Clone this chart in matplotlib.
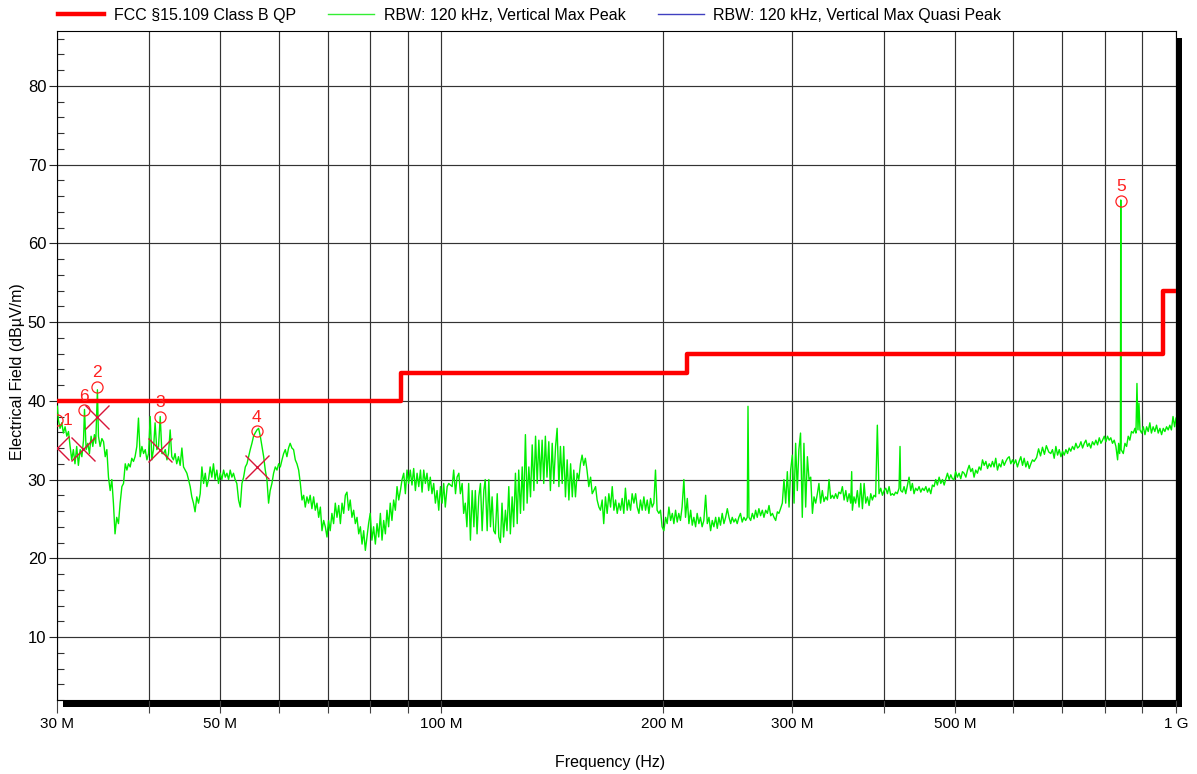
import matplotlib
matplotlib.use('Agg')
import matplotlib.pyplot as plt
from matplotlib.ticker import FixedLocator, FixedFormatter, NullFormatter, MultipleLocator
from matplotlib.lines import Line2D
from matplotlib.patches import Rectangle

plt.rcParams['font.family'] = ['Liberation Sans', 'DejaVu Sans']

# limit line: FCC 15.109 class B (3 m), step edges in MHz
limit_edges = [30, 88, 216, 960, 1000]
limit_levels = [40, 43.5, 46, 54, 54]

# max peak trace (MHz, dBuV/m)
band_30_56 = [
    (30.0, 39.3), (30.09, 37.6), (30.25, 36.5), (30.41, 37.2), (30.57, 35.9), (30.73, 36.7),
    (30.90, 35.5), (31.06, 36.1), (31.22, 34.2), (31.38, 32.5), (31.54, 33.8), (31.70, 32.0),
    (31.87, 34.2), (32.04, 31.8), (32.22, 33.8), (32.39, 32.9), (32.56, 35.0), (32.66, 38.9),
    (32.83, 33.8), (33.00, 34.6), (33.17, 33.3), (33.34, 35.5), (33.52, 34.2), (33.69, 35.7),
    (33.83, 34.6), (34.01, 41.4), (34.12, 35.5), (34.30, 34.2), (34.49, 35.2), (34.67, 34.8),
    (34.85, 32.9), (35.03, 33.8), (35.21, 30.3), (35.40, 28.6), (35.58, 30.0), (35.76, 27.0),
    (35.94, 23.1), (36.13, 25.2), (36.33, 24.4), (36.52, 27.0), (36.72, 29.1), (36.91, 29.5),
    (37.11, 32.0), (37.30, 31.2), (37.49, 32.0), (37.69, 31.6), (37.88, 32.7), (38.08, 32.3),
    (38.27, 32.9), (38.48, 34.2), (38.68, 37.8), (38.89, 32.9), (39.10, 34.2), (39.30, 33.3),
    (39.51, 33.8), (39.72, 32.5), (39.92, 33.3), (40.13, 38.0), (40.34, 32.5), (40.54, 33.8),
    (40.75, 37.2), (40.97, 33.8), (41.19, 34.2), (41.41, 38.0), (41.63, 33.3), (41.85, 33.3),
    (42.07, 33.8), (42.29, 32.5), (42.50, 33.3), (42.72, 36.3), (42.94, 32.9), (43.16, 32.5),
    (43.38, 33.3), (43.61, 32.0), (43.85, 32.9), (44.08, 31.8), (44.32, 34.0), (44.55, 31.6),
    (44.79, 31.2), (45.02, 30.8), (45.25, 30.0), (45.49, 29.1), (45.72, 27.8), (45.96, 27.0),
    (46.19, 25.9), (46.44, 27.8), (46.69, 27.0), (46.94, 28.2), (47.19, 31.6), (47.44, 29.5),
    (47.69, 30.8), (47.93, 29.1), (48.18, 30.0), (48.43, 31.6), (48.68, 30.3), (48.93, 32.0),
    (49.18, 30.0), (49.45, 31.2), (49.71, 29.5), (49.98, 30.8), (50.24, 30.0), (50.51, 31.2),
    (50.78, 30.3), (51.04, 30.8), (51.31, 30.0), (51.57, 31.2), (51.84, 30.3), (52.10, 30.8),
    (52.37, 30.0), (52.65, 29.5), (52.94, 27.4), (53.22, 26.5), (53.50, 29.5), (53.78, 30.3),
    (54.07, 31.6), (54.35, 32.0), (54.63, 32.9), (54.91, 33.8), (55.20, 34.6), (55.48, 35.5),
    (55.76, 35.9),
]

band_56_103 = [
    (56.08, 36.3), (56.37, 36.5), (56.67, 35.5), (56.97, 34.2), (57.27, 32.9), (57.56, 31.2),
    (57.86, 30.0), (58.16, 27.0), (58.45, 28.6), (58.77, 29.5), (59.08, 30.8), (59.40, 31.6),
    (59.71, 31.2), (60.03, 32.0), (60.34, 31.6), (60.66, 32.5), (60.97, 33.3), (61.29, 33.8),
    (61.60, 32.9), (61.92, 34.0), (62.23, 34.6), (62.57, 34.0), (62.90, 33.8), (63.24, 32.5),
    (63.57, 32.0), (63.91, 31.2), (64.25, 29.5), (64.58, 27.4), (64.92, 28.0), (65.25, 26.5),
    (65.59, 27.8), (65.92, 27.0), (66.26, 28.0), (66.62, 26.3), (66.98, 27.8), (67.33, 26.1),
    (67.69, 27.0), (68.05, 25.2), (68.41, 26.5), (68.76, 23.5), (69.12, 24.8), (69.48, 24.0),
    (69.84, 22.7), (70.19, 24.8), (70.55, 23.5), (70.93, 25.7), (71.31, 24.4), (71.69, 27.0),
    (72.07, 25.2), (72.46, 26.7), (72.84, 24.4), (73.22, 27.0), (73.60, 25.7), (73.98, 28.0),
    (74.36, 28.4), (74.74, 26.1), (75.12, 27.4), (75.53, 25.2), (75.93, 26.1), (76.34, 24.4),
    (76.74, 25.2), (77.15, 23.1), (77.55, 24.0), (77.96, 21.8), (78.36, 23.5), (78.77, 21.0),
    (79.17, 22.7), (79.58, 24.4), (79.98, 25.7), (80.41, 22.3), (80.84, 24.0), (81.28, 21.8),
    (81.71, 24.4), (82.14, 22.7), (82.57, 25.7), (83.00, 22.3), (83.43, 24.8), (83.87, 23.1),
    (84.30, 26.1), (84.73, 24.0), (85.16, 27.0), (85.62, 24.8), (86.08, 27.4), (86.54, 26.1),
    (87.00, 29.1), (87.46, 27.4), (87.92, 28.6), (88.38, 30.0), (88.84, 30.8), (89.30, 28.2),
    (89.76, 31.2), (90.22, 29.5), (90.68, 31.2), (91.17, 29.3), (91.66, 31.4), (92.15, 28.6),
    (92.64, 30.8), (93.13, 29.1), (93.62, 31.2), (94.10, 28.4), (94.59, 31.2), (95.08, 29.5),
    (95.57, 30.8), (96.06, 28.6), (96.55, 30.3), (97.07, 28.2), (97.59, 29.5), (98.11, 27.0),
    (98.63, 28.6), (99.15, 26.1), (99.68, 29.1), (100.2, 27.0), (100.7, 29.5), (101.2, 26.5),
    (101.8, 29.1), (102.3, 29.5),
]

band_103_189 = [
    (103.4, 29.1), (103.9, 31.2), (104.5, 28.2), (105.0, 30.3), (105.6, 30.8), (106.1, 28.2),
    (106.7, 29.5), (107.2, 25.7), (107.75, 27.0), (108.3, 24.0), (108.9, 29.5), (109.5, 22.3),
    (110.1, 28.6), (110.7, 24.0), (111.2, 28.6), (111.8, 23.1), (112.4, 27.8), (113.0, 29.5),
    (113.6, 23.5), (114.2, 28.6), (114.7, 30.0), (115.4, 23.5), (116.0, 30.0), (116.6, 24.0),
    (117.2, 27.8), (117.8, 23.5), (118.4, 23.1), (119.1, 28.2), (119.7, 22.7), (120.3, 22.0),
    (120.9, 27.0), (121.5, 22.7), (122.2, 26.1), (122.8, 23.5), (123.5, 29.1), (124.1, 23.1),
    (124.8, 27.8), (125.4, 24.0), (126.1, 30.8), (126.8, 24.4), (127.4, 31.2), (128.1, 25.7),
    (128.8, 31.6), (129.4, 26.1), (130.1, 35.7), (130.8, 27.0), (131.5, 31.6), (132.2, 27.8),
    (132.9, 34.4), (133.6, 28.6), (134.3, 35.5), (135.0, 29.5), (135.7, 35.0), (136.4, 30.0),
    (137.1, 35.0), (137.8, 29.5), (138.5, 35.5), (139.2, 30.3), (140.0, 34.8), (140.7, 28.6),
    (141.5, 34.6), (142.2, 29.5), (143.0, 34.2), (143.7, 36.5), (144.5, 29.1), (145.2, 34.2),
    (146.0, 29.5), (146.7, 34.2), (147.5, 27.8), (148.3, 32.5), (149.1, 27.4), (149.9, 32.0),
    (150.7, 27.8), (151.4, 31.2), (152.2, 27.8), (153.0, 30.8), (153.8, 30.0), (154.6, 32.0),
    (155.4, 33.1), (156.2, 31.8), (157.0, 32.7), (157.8, 31.2), (158.7, 29.1), (159.6, 30.3),
    (160.4, 28.2), (161.2, 28.6), (162.1, 29.1), (162.9, 27.4), (163.8, 26.5), (164.6, 26.1),
    (165.5, 27.4), (166.3, 24.4), (167.2, 27.8), (168.1, 25.7), (169.0, 28.2), (169.9, 26.5),
    (170.8, 29.1), (171.7, 26.1), (172.6, 27.4), (173.5, 25.7), (174.4, 27.0), (175.3, 26.1),
    (176.2, 27.6), (177.1, 25.7), (178.0, 28.9), (179.0, 26.1), (179.9, 27.4), (180.9, 26.1),
    (181.8, 28.2), (182.8, 27.0), (183.8, 28.2), (184.7, 26.5), (185.7, 25.7), (186.6, 27.4),
    (187.6, 26.1), (188.6, 27.8),
]

band_189_348 = [
    (189.6, 26.1), (190.6, 27.4), (191.6, 25.7), (192.6, 27.6), (193.6, 26.5), (194.6, 27.0),
    (195.6, 31.2), (196.6, 26.1), (197.7, 25.7), (198.7, 26.1), (199.7, 24.0), (200.8, 23.5),
    (201.9, 25.2), (202.9, 24.4), (204.0, 26.5), (205.1, 24.8), (206.2, 25.7), (207.2, 24.4),
    (208.3, 26.1), (209.4, 24.6), (210.4, 25.7), (211.5, 24.8), (212.6, 26.5), (213.8, 30.0),
    (214.9, 25.2), (216.1, 27.6), (217.2, 24.4), (218.4, 26.1), (219.5, 24.2), (220.6, 25.2),
    (221.8, 24.0), (222.9, 25.7), (224.1, 24.4), (225.2, 25.2), (226.4, 24.0), (227.6, 24.8),
    (228.9, 28.0), (230.1, 24.4), (231.3, 25.2), (232.5, 23.5), (233.7, 24.8), (234.9, 24.0),
    (236.2, 25.2), (237.4, 23.8), (238.6, 25.2), (239.8, 24.2), (241.1, 25.7), (242.4, 24.4),
    (243.7, 25.2), (245.0, 26.3), (246.3, 25.2), (247.6, 24.4), (248.8, 25.2), (250.1, 24.6),
    (251.4, 25.0), (252.7, 24.4), (254.0, 25.2), (255.3, 25.7), (256.7, 24.6), (258.1, 25.2),
    (259.5, 24.8), (260.8, 25.2), (261.4, 39.3), (262.2, 25.2), (263.6, 24.8), (265.0, 25.7),
    (266.4, 25.0), (267.7, 26.1), (269.1, 25.2), (270.5, 26.3), (271.9, 25.4), (273.4, 26.1),
    (274.8, 25.2), (276.3, 26.1), (277.8, 25.7), (279.2, 26.7), (280.7, 25.4), (282.2, 25.7),
    (283.6, 25.2), (285.1, 24.8), (286.6, 25.9), (288.0, 25.7), (289.5, 26.3), (291.1, 27.0),
    (292.6, 30.0), (294.2, 27.0), (295.7, 31.0), (297.3, 26.5), (298.8, 31.2), (300.4, 33.1),
    (302.0, 27.0), (303.5, 34.6), (305.1, 28.6), (306.6, 33.8), (308.2, 35.9), (309.9, 25.2),
    (311.5, 34.6), (313.2, 26.5), (314.9, 32.9), (316.5, 30.0), (318.2, 30.3), (319.9, 25.7),
    (321.5, 27.8), (323.2, 27.0), (324.9, 28.2), (326.5, 29.5), (328.2, 27.0), (330.0, 28.6),
    (331.7, 27.2), (333.5, 27.8), (335.3, 27.4), (337.0, 30.0), (338.8, 27.6), (340.6, 28.0),
    (342.3, 27.6), (344.1, 28.2), (345.9, 27.6), (347.6, 28.4),
]

band_348_641 = [
    (349.6, 28.2), (351.4, 29.1), (353.3, 27.4), (355.2, 28.6), (357.0, 27.2), (358.9, 28.2),
    (360.7, 27.0), (361.8, 31.0), (362.6, 26.1), (364.4, 27.8), (366.3, 27.0), (368.3, 28.6),
    (370.3, 26.5), (372.2, 29.5), (374.2, 26.3), (376.2, 29.5), (378.1, 27.0), (380.1, 27.8),
    (382.1, 26.7), (384.1, 28.2), (386.0, 27.4), (388.0, 28.0), (390.0, 27.8), (392.1, 36.9),
    (394.2, 28.2), (396.3, 28.9), (398.4, 28.0), (400.5, 28.6), (402.6, 28.9), (404.7, 28.2),
    (406.8, 29.1), (408.9, 28.0), (411.0, 28.2), (413.1, 28.0), (415.2, 28.4), (417.4, 28.2),
    (419.7, 28.9), (421.0, 34.2), (421.9, 28.6), (424.2, 28.4), (426.4, 29.1), (428.6, 28.2),
    (430.9, 29.3), (433.1, 30.3), (435.4, 28.6), (437.6, 29.5), (439.9, 28.2), (442.1, 28.9),
    (444.5, 28.6), (446.9, 29.1), (449.3, 28.4), (451.7, 28.9), (454.1, 28.6), (456.5, 29.1),
    (458.9, 28.4), (461.2, 28.9), (463.6, 28.2), (466.0, 29.3), (468.4, 29.1), (470.8, 30.0),
    (473.3, 29.3), (475.9, 30.3), (478.4, 29.5), (480.9, 30.0), (483.5, 29.3), (486.0, 30.1),
    (488.5, 30.8), (491.1, 30.0), (493.6, 30.6), (496.1, 30.1), (498.7, 30.0), (501.2, 31.0),
    (503.9, 30.3), (506.6, 30.8), (509.3, 30.1), (512.0, 31.0), (514.7, 30.8), (517.5, 30.3),
    (520.2, 31.2), (522.9, 31.8), (525.6, 31.0), (528.3, 31.4), (531.0, 30.3), (533.7, 31.2),
    (536.6, 30.8), (539.5, 31.6), (542.4, 31.2), (545.2, 32.5), (548.1, 31.8), (551.0, 32.3),
    (553.9, 31.4), (556.8, 32.0), (559.7, 31.6), (562.5, 32.3), (565.4, 31.6), (568.3, 32.7),
    (571.4, 31.2), (574.4, 32.0), (577.5, 31.6), (580.5, 32.5), (583.6, 31.8), (586.6, 32.3),
    (589.7, 32.7), (592.8, 32.9), (595.8, 32.0), (598.9, 32.5), (601.9, 32.0), (605.0, 32.5),
    (608.3, 31.6), (611.5, 32.3), (614.8, 32.9), (618.1, 31.8), (621.3, 32.7), (624.6, 31.6),
    (627.9, 32.3), (631.2, 31.4), (634.4, 32.0), (637.7, 32.5), (641.0, 32.3),
]

band_641_1000 = [
    (646.0, 32.8), (650.0, 33.9), (654.0, 33.0), (658.0, 34.1), (662.0, 33.2), (666.0, 34.3),
    (671.0, 33.5), (675.3, 33.3), (678.9, 33.8), (682.6, 32.7), (686.2, 34.2), (689.9, 33.1),
    (693.5, 33.8), (697.2, 32.9), (700.8, 33.6), (704.4, 33.1), (708.1, 33.8), (711.7, 33.3),
    (715.4, 34.0), (719.0, 33.6), (722.9, 34.2), (726.8, 33.8), (730.6, 34.6), (734.5, 34.0),
    (738.4, 34.2), (742.3, 34.8), (746.1, 34.0), (750.0, 34.6), (753.9, 35.0), (757.8, 34.2),
    (761.6, 34.6), (765.5, 34.0), (769.6, 34.8), (773.8, 34.4), (777.9, 35.0), (782.0, 34.4),
    (786.2, 35.3), (790.3, 34.6), (794.4, 35.0), (798.6, 35.5), (802.7, 34.8), (806.8, 35.5),
    (811.0, 35.0), (815.1, 35.3), (819.5, 34.6), (823.9, 35.0), (828.3, 34.2), (832.7, 32.5),
    (835.4, 34.6), (838.0, 33.3), (840.0, 34.6), (841.0, 65.5), (842.0, 33.8), (847.7, 33.3),
    (852.1, 34.6), (856.5, 34.2), (860.9, 35.5), (865.3, 35.0), (869.8, 36.1), (874.5, 35.9),
    (879.2, 36.5), (882.0, 35.9), (884.8, 42.2), (887.6, 36.3), (890.4, 39.7), (893.2, 36.3),
    (897.9, 35.9), (902.6, 36.7), (907.3, 35.7), (912.0, 36.7), (916.6, 36.1), (921.3, 37.2),
    (925.8, 35.9), (930.8, 36.7), (935.8, 36.1), (940.8, 36.9), (945.8, 35.9), (950.8, 36.5),
    (955.8, 35.7), (960.8, 36.5), (965.8, 36.1), (970.8, 36.7), (975.8, 36.3), (980.8, 36.9),
    (985.7, 36.3), (990.7, 38.0), (995.7, 36.7), (1000.0, 37.8),
]

# peak markers (circles) and quasi-peak results (crosses)
peak_ids = ['1', '6', '2', '3', '4', '5']
peak_freq = [30.0, 32.6, 34.0, 41.4, 56.0, 841.0]
peak_level = [37.5, 38.8, 41.8, 38.0, 36.1, 65.4]
qp_freq = [30.0, 32.5, 34.0, 41.4, 56.0]
qp_level = [34.0, 33.9, 38.0, 33.7, 31.6]

x_major = [30, 50, 100, 200, 300, 500, 1000]
x_major_labels = ['30 M', '50 M', '100 M', '200 M', '300 M', '500 M', '1 G']
x_minor = [40, 60, 70, 80, 90, 400, 600, 700, 800, 900]

trace = band_30_56 + band_56_103 + band_103_189 + band_189_348 + band_348_641 + band_641_1000
trace_f = [p[0] for p in trace]
trace_l = [p[1] for p in trace]

W, H = 1197, 774
L, R, T, B = 57.4, 1176, 30.7, 700
fig = plt.figure(figsize=(W / 100, H / 100), dpi=100)
ax = fig.add_axes([L / W, 1 - B / H, (R - L) / W, (B - T) / H])
ax.set_facecolor('white')

# drop shadow behind the plot frame
shadow = Rectangle(((L + 6) / W, 1 - (B + 7) / H), (R - L) / W, (B - T) / H,
                   transform=fig.transFigure, facecolor='black', edgecolor='none', zorder=-1)
fig.add_artist(shadow)

ax.plot(trace_f, trace_l, color='#00ee00', lw=1.0, zorder=3)
ax.step(limit_edges, limit_levels, where='post', color='#ff0000', lw=3.2, zorder=4)
ax.plot(peak_freq, peak_level, 'o', mfc='none', mec='#ff2020', ms=8, mew=0.9, zorder=5)
ax.plot(qp_freq, qp_level, 'x', color='#d8143a', ms=17, mew=1.0, zorder=5)
for pid, f, l in zip(peak_ids, peak_freq, peak_level):
    off = (7, 0) if pid == '1' else (0, 10)
    ax.annotate(pid, (f, l), xytext=off, textcoords='offset points', ha='center', va='center',
                color='#ff2020', fontsize=12.5, zorder=6, annotation_clip=False)

ax.set_xscale('log')
ax.set_xlim(30, 1000)
ax.set_ylim(2, 87)
ax.xaxis.set_major_locator(FixedLocator(x_major))
ax.xaxis.set_major_formatter(FixedFormatter(x_major_labels))
ax.xaxis.set_minor_locator(FixedLocator(x_minor))
ax.xaxis.set_minor_formatter(NullFormatter())
ax.yaxis.set_major_locator(MultipleLocator(10))
ax.yaxis.set_minor_locator(MultipleLocator(2))

ax.set_axisbelow(True)
ax.grid(which='both', axis='x', color='#333333', lw=0.85)
ax.grid(which='major', axis='y', color='#333333', lw=0.85)

ax.tick_params(axis='x', which='both', direction='out', length=9, width=0.8, color='#444444',
               pad=3, labelsize=11)
ax.tick_params(axis='y', which='major', direction='out', length=6, width=0.8, color='#222222',
               pad=2, labelsize=12)
ax.tick_params(axis='y', which='minor', direction='in', length=5, width=0.8, color='#333333')
for s in ax.spines.values():
    s.set_linewidth(0.8)
    s.set_color('black')

legend_handles = [
    Line2D([], [], color='#ff0000', lw=3.2),
    Line2D([], [], color='#33ee33', lw=1.0),
    Line2D([], [], color='#4040c0', lw=1.0),
]
legend_labels = ['FCC §15.109 Class B QP', 'RBW: 120 kHz, Vertical Max Peak',
                 'RBW: 120 kHz, Vertical Max Quasi Peak']
fig.legend(legend_handles, legend_labels, loc='upper left', bbox_to_anchor=(58 / W, 1 - 8 / H),
           ncol=3, frameon=False, fontsize=11.5, handlelength=2.9, handletextpad=0.6,
           columnspacing=2.0, borderpad=0, borderaxespad=0)

fig.text(18 / W, 1 - 372 / H, 'Electrical Field (dBµV/m)', rotation=90, ha='center', va='center',
         fontsize=11.5)
fig.text(610 / W, 1 - 763 / H, 'Frequency (Hz)', ha='center', va='center', fontsize=11.5)

fig.savefig('out.png', dpi=100)
